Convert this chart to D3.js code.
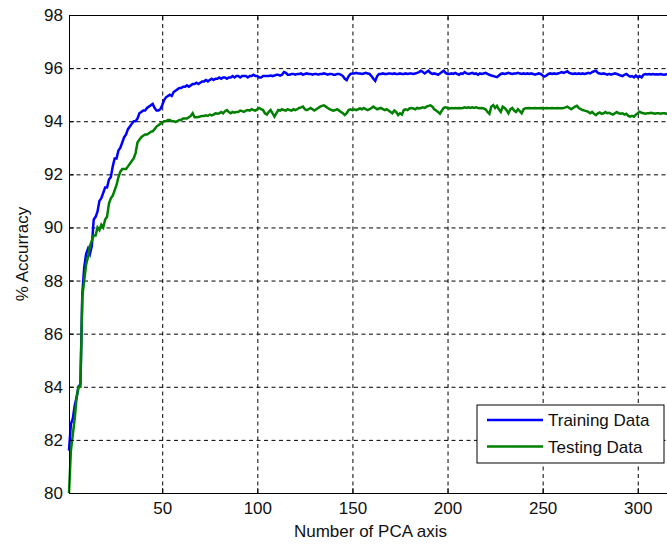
<!DOCTYPE html>
<html>
<head>
<meta charset="utf-8">
<script src="https://cdn.jsdelivr.net/npm/d3@7"></script>
<style>
    body { margin: 0; background: #ffffff; }
    svg { display: block; font-family: "Liberation Sans", Arial, sans-serif; }
    .grid line { stroke: #000000; stroke-dasharray: 4, 3.5; stroke-width: 1; }
    .axis path, .axis line { stroke: #000000; }
    .axis text { fill: #111111; font-size: 17px; }
</style>
</head>
<body>
<svg id="chart" width="667" height="544"></svg>
<script>
// Donnees du graphique
const xTicks = [50, 100, 150, 200, 250, 300];
const yTicks = [80, 82, 84, 86, 88, 90, 92, 94, 96, 98];
const seriesNames = ["Training Data", "Testing Data"];
const seriesColors = ["#0000ff", "#008000"];
const xLabel = "Number of PCA axis";
const yLabel = "% Accurracy";

// Precision d'apprentissage, un point par nombre d'axes (1 a 318)
const trainingAccuracy = [
    81.6, 82.6, 82.8, 83.3, 83.6, 84.0, 84.1, 87.5, 88.5, 89.0,
    89.2, 89.0, 89.3, 90.3, 90.4, 90.6, 91.0, 91.1, 91.3, 91.5,
    91.5, 91.8, 91.9, 92.3, 92.6, 92.6, 92.9, 93.0, 93.2, 93.4,
    93.5, 93.7, 93.8, 93.9, 94.0, 94.0, 94.1, 94.3, 94.35, 94.4,
    94.4, 94.5, 94.55, 94.6, 94.65, 94.5, 94.4, 94.4, 94.45, 94.6,
    94.8, 94.9, 94.95, 95.0, 94.95, 95.1, 95.15, 95.2, 95.25, 95.25,
    95.3, 95.3, 95.35, 95.3, 95.35, 95.4, 95.4, 95.45, 95.4, 95.45,
    95.5, 95.5, 95.55, 95.5, 95.55, 95.6, 95.55, 95.6, 95.6, 95.65,
    95.6, 95.65, 95.65, 95.6, 95.65, 95.65, 95.7, 95.65, 95.7, 95.7,
    95.65, 95.7, 95.7, 95.7, 95.65, 95.7, 95.7, 95.75, 95.7, 95.7,
    95.65, 95.65, 95.7, 95.7, 95.7, 95.7, 95.72, 95.7, 95.72, 95.75,
    95.75, 95.72, 95.75, 95.85, 95.82, 95.75, 95.75, 95.78, 95.78, 95.75,
    95.78, 95.78, 95.8, 95.75, 95.78, 95.8, 95.78, 95.78, 95.75, 95.78,
    95.78, 95.75, 95.78, 95.78, 95.8, 95.78, 95.75, 95.78, 95.78, 95.75,
    95.75, 95.78, 95.78, 95.75, 95.7, 95.6, 95.55, 95.7, 95.78, 95.8,
    95.8, 95.82, 95.8, 95.8, 95.78, 95.8, 95.82, 95.8, 95.78, 95.7,
    95.6, 95.52, 95.7, 95.78, 95.78, 95.8, 95.78, 95.78, 95.8, 95.8,
    95.78, 95.8, 95.78, 95.78, 95.8, 95.78, 95.78, 95.8, 95.78, 95.8,
    95.8, 95.78, 95.8, 95.82, 95.85, 95.9, 95.85, 95.8, 95.85, 95.9,
    95.82, 95.78, 95.8, 95.78, 95.75, 95.8, 95.85, 95.9, 95.82, 95.78,
    95.78, 95.8, 95.78, 95.82, 95.78, 95.75, 95.8, 95.78, 95.85, 95.8,
    95.78, 95.8, 95.82, 95.78, 95.8, 95.75, 95.8, 95.78, 95.8, 95.82,
    95.78, 95.75, 95.72, 95.7, 95.68, 95.66, 95.72, 95.78, 95.8, 95.78,
    95.8, 95.82, 95.8, 95.78, 95.8, 95.8, 95.82, 95.8, 95.78, 95.8,
    95.78, 95.8, 95.78, 95.8, 95.78, 95.75, 95.78, 95.8, 95.78, 95.72,
    95.68, 95.72, 95.78, 95.8, 95.78, 95.8, 95.78, 95.8, 95.82, 95.85,
    95.82, 95.85, 95.88, 95.82, 95.8, 95.78, 95.8, 95.78, 95.8, 95.78,
    95.8, 95.78, 95.8, 95.82, 95.8, 95.85, 95.88, 95.9, 95.82, 95.8,
    95.78, 95.8, 95.78, 95.75, 95.78, 95.75, 95.78, 95.8, 95.78, 95.75,
    95.72, 95.7, 95.75, 95.78, 95.72, 95.68, 95.7, 95.65, 95.72, 95.66,
    95.7, 95.65, 95.75, 95.78, 95.76, 95.78, 95.76, 95.78, 95.76, 95.77,
    95.76, 95.78, 95.76, 95.75, 95.77, 95.76, 95.78, 95.76
];

// Precision de test
const testingAccuracy = [
    80.0, 81.6, 82.2, 82.8, 83.6, 84.0, 84.0, 87.4, 88.0, 88.6,
    88.9, 89.3, 89.5, 89.7, 89.7, 90.0, 89.9, 90.1, 90.0, 90.3,
    90.4, 90.9, 91.1, 91.2, 91.4, 91.6, 91.9, 92.1, 92.2, 92.2,
    92.2, 92.3, 92.4, 92.5, 92.6, 92.8, 93.2, 93.3, 93.4, 93.45,
    93.5, 93.5, 93.55, 93.6, 93.62, 93.7, 93.8, 93.85, 93.9, 93.95,
    94.0, 94.0, 94.05, 94.05, 94.0, 94.0, 93.97, 94.0, 94.05, 94.05,
    94.1, 94.1, 94.1, 94.15, 94.2, 94.3, 94.15, 94.15, 94.16, 94.18,
    94.2, 94.2, 94.22, 94.2, 94.25, 94.22, 94.25, 94.3, 94.28, 94.3,
    94.35, 94.3, 94.38, 94.42, 94.35, 94.3, 94.35, 94.32, 94.35, 94.35,
    94.4, 94.38, 94.35, 94.4, 94.42, 94.4, 94.45, 94.42, 94.4, 94.45,
    94.5, 94.45, 94.42, 94.3, 94.25, 94.35, 94.42, 94.3, 94.17, 94.3,
    94.42, 94.4, 94.45, 94.42, 94.4, 94.45, 94.42, 94.4, 94.45, 94.42,
    94.45, 94.5, 94.52, 94.55, 94.45, 94.42, 94.45, 94.5, 94.45, 94.4,
    94.45, 94.5, 94.55, 94.58, 94.6, 94.55, 94.5, 94.45, 94.42, 94.4,
    94.42, 94.45, 94.4, 94.35, 94.3, 94.23, 94.3, 94.42, 94.45, 94.42,
    94.45, 94.42, 94.45, 94.48, 94.45, 94.5, 94.45, 94.42, 94.45, 94.5,
    94.55, 94.5, 94.45, 94.48, 94.5, 94.45, 94.42, 94.45, 94.4, 94.35,
    94.3, 94.4, 94.35, 94.23, 94.3, 94.25, 94.42, 94.45, 94.42, 94.48,
    94.5, 94.48, 94.45, 94.5, 94.48, 94.5, 94.52, 94.5, 94.55, 94.58,
    94.6, 94.55, 94.45, 94.4, 94.35, 94.28, 94.4, 94.5, 94.52, 94.5,
    94.48, 94.5, 94.49, 94.5, 94.49, 94.5, 94.49, 94.5, 94.52, 94.5,
    94.52, 94.5, 94.52, 94.5, 94.52, 94.5, 94.49, 94.5, 94.48, 94.45,
    94.35, 94.28, 94.55, 94.61, 94.5, 94.58, 94.45, 94.35, 94.55, 94.5,
    94.42, 94.3, 94.45, 94.5, 94.4, 94.35, 94.45, 94.38, 94.3, 94.45,
    94.49, 94.49, 94.5, 94.49, 94.49, 94.5, 94.49, 94.49, 94.5, 94.49,
    94.49, 94.5, 94.49, 94.49, 94.5, 94.49, 94.49, 94.5, 94.49, 94.49,
    94.5, 94.52, 94.55, 94.5, 94.45, 94.5, 94.55, 94.58, 94.5, 94.45,
    94.42, 94.4, 94.38, 94.35, 94.3, 94.35, 94.28, 94.23, 94.3, 94.33,
    94.28, 94.3, 94.35, 94.3, 94.32, 94.28, 94.25, 94.3, 94.35, 94.3,
    94.28, 94.3, 94.25, 94.28, 94.2, 94.17, 94.2, 94.17, 94.25, 94.3,
    94.36, 94.32, 94.3, 94.28, 94.3, 94.3, 94.32, 94.3, 94.28, 94.3,
    94.3, 94.28, 94.3, 94.3, 94.28, 94.3, 94.3, 94.3
];

const chartConfig = {
    width: 667,
    height: 544,
    left: 69,
    right: 672,
    top: 15,
    bottom: 493,
    tickLength: 5
};

const svg = d3.select("#chart");

const xScale = d3.scaleLinear()
    .domain([1, trainingAccuracy.length])
    .range([chartConfig.left, chartConfig.right]);

const yScale = d3.scaleLinear()
    .domain([80, 98])
    .range([chartConfig.bottom, chartConfig.top]);

function drawGrid() {
    const innerWidth = chartConfig.right - chartConfig.left;
    const innerHeight = chartConfig.bottom - chartConfig.top;

    svg.append("g")
        .attr("class", "grid")
        .attr("transform", "translate(0," + chartConfig.bottom + ")")
        .call(d3.axisBottom(xScale).tickValues(xTicks).tickSize(-innerHeight).tickFormat(""))
        .call(function(g) { g.select(".domain").remove(); });

    svg.append("g")
        .attr("class", "grid")
        .attr("transform", "translate(" + chartConfig.left + ",0)")
        .call(d3.axisLeft(yScale).tickValues(yTicks.slice(1, -1)).tickSize(-innerWidth).tickFormat(""))
        .call(function(g) { g.select(".domain").remove(); });
}

function drawAxes() {
    const inward = -chartConfig.tickLength;

    svg.append("g")
        .attr("class", "axis")
        .attr("transform", "translate(0," + chartConfig.bottom + ")")
        .call(d3.axisBottom(xScale).tickValues(xTicks).tickSizeInner(inward).tickSizeOuter(0).tickPadding(9));

    svg.append("g")
        .attr("class", "axis")
        .attr("transform", "translate(0," + chartConfig.top + ")")
        .call(d3.axisTop(xScale).tickValues(xTicks).tickSizeInner(inward).tickSizeOuter(0).tickFormat(""));

    svg.append("g")
        .attr("class", "axis")
        .attr("transform", "translate(" + chartConfig.left + ",0)")
        .call(d3.axisLeft(yScale).tickValues(yTicks).tickSizeInner(inward).tickSizeOuter(0).tickPadding(6));

    svg.append("g")
        .attr("class", "axis")
        .attr("transform", "translate(" + chartConfig.right + ",0)")
        .call(d3.axisRight(yScale).tickValues(yTicks).tickSizeInner(inward).tickSizeOuter(0).tickFormat(""));

    svg.append("text")
        .attr("x", (chartConfig.left + chartConfig.right) / 2)
        .attr("y", 537)
        .attr("text-anchor", "middle")
        .attr("font-size", 17)
        .attr("fill", "#111111")
        .text(xLabel);

    svg.append("text")
        .attr("transform", "translate(28," + ((chartConfig.top + chartConfig.bottom) / 2) + ") rotate(-90)")
        .attr("text-anchor", "middle")
        .attr("font-size", 17)
        .attr("fill", "#111111")
        .text(yLabel);
}

function drawSeries() {
    const line = d3.line()
        .x(function(d, i) { return xScale(i + 1); })
        .y(function(d) { return yScale(d); });

    [trainingAccuracy, testingAccuracy].forEach(function(values, index) {
        svg.append("path")
            .datum(values)
            .attr("fill", "none")
            .attr("stroke", seriesColors[index])
            .attr("stroke-width", 2.5)
            .attr("stroke-linejoin", "miter")
            .attr("d", line);
    });
}

function drawLegend() {
    const legend = svg.append("g")
        .attr("transform", "translate(477,405)");

    legend.append("rect")
        .attr("width", 187)
        .attr("height", 58)
        .attr("fill", "#ffffff")
        .attr("stroke", "#000000");

    seriesNames.forEach(function(name, index) {
        const rowY = 15 + index * 26.5;

        legend.append("line")
            .attr("x1", 10)
            .attr("x2", 66)
            .attr("y1", rowY)
            .attr("y2", rowY)
            .attr("stroke", seriesColors[index])
            .attr("stroke-width", 2.5);

        legend.append("text")
            .attr("x", 71)
            .attr("y", rowY + 6)
            .attr("font-size", 17)
            .attr("fill", "#111111")
            .text(name);
    });
}

drawGrid();
drawSeries();
drawAxes();
drawLegend();
</script>
</body>
</html>
